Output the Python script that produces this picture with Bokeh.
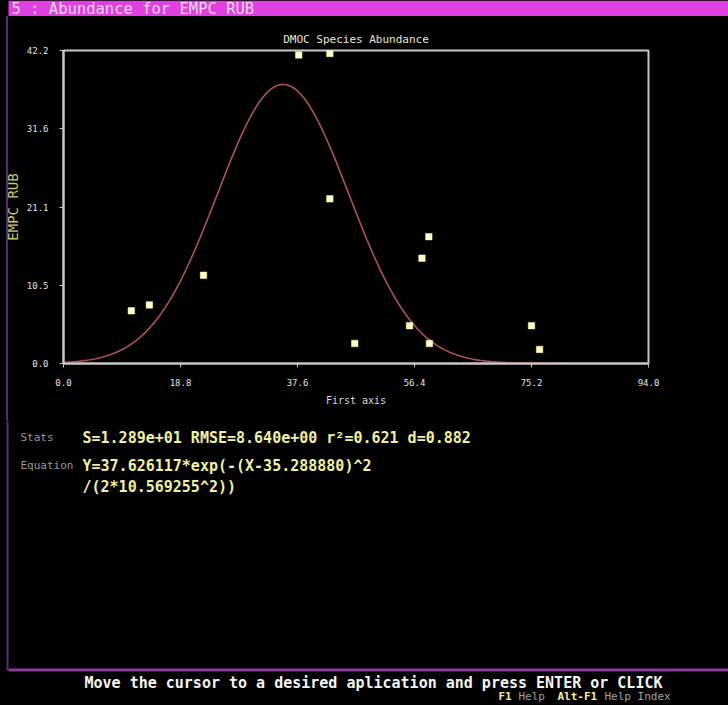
import numpy as np
from bokeh.plotting import figure
from bokeh.models import Label, FixedTicker
from bokeh.embed import file_html
from bokeh.resources import INLINE

# ---- data ----
first_axis = [10.9, 13.8, 22.5, 37.8, 42.8, 42.8, 46.8, 55.6, 57.6, 58.7, 58.8, 75.2, 76.5]
empc_rub   = [7.1, 7.9, 11.9, 41.6, 41.8, 22.2, 2.7, 5.1, 14.2, 17.1, 2.7, 5.1, 1.9]

# fitted gaussian parameters shown on the screen
amp, mu, sigma = 37.626117, 35.288880, 10.569255

x_ticks = [0.0, 18.8, 37.6, 56.4, 75.2, 94.0]
x_tick_labels = ["0.0", "18.8", "37.6", "56.4", "75.2", "94.0"]
y_ticks = [0.0, 10.55, 21.1, 31.65, 42.2]
y_tick_labels = ["0.0", "10.5", "21.1", "31.6", "42.2"]

header = "5 : Abundance for EMPC RUB"
chart_title = "DMOC Species Abundance"
stats_text = "S=1.289e+01 RMSE=8.640e+00 r\u00b2=0.621 d=0.882"
eq1 = "Y=37.626117*exp(-(X-35.288880)^2"
eq2 = "/(2*10.569255^2))"
footer = "Move the cursor to a desired aplication and press ENTER or CLICK"

W = 728
HEAD_H = 16            # page rows 0..16
CHART_TOP, CHART_BOT = 16, 420
TEXT_H = 705 - CHART_BOT
FL, FR, FT, FB = 63, 648, 50, 363  # frame edges in page pixels

MONO = "DejaVu Sans Mono"
EDGE = "#5a2a7a"


def canvas_fig(h, y0):
    f = figure(width=W, height=h, output_backend="svg", toolbar_location=None,
               x_range=(0, W), y_range=(y0 + h, y0),
               x_axis_location=None, y_axis_location=None, min_border=0)
    f.background_fill_color = "black"
    f.border_fill_color = "black"
    f.outline_line_color = None
    f.xgrid.visible = False
    f.ygrid.visible = False
    return f


def lab(f, x, y, text, color, size, bold=False):
    f.add_layout(Label(x=x, y=y, text=text, text_color=color, text_font=MONO,
                       text_font_size=size, text_font_style="bold" if bold else "normal",
                       text_baseline="middle", text_align="left"))


# ---------------- header bar ----------------
top = canvas_fig(HEAD_H, 0)
top.quad(left=[8], right=[W], top=[0], bottom=[HEAD_H], fill_color="#e040e0", line_color=None)
lab(top, 11, 8, header, "#f8d8f8", "15.5px")

# ---------------- chart ----------------
p = figure(width=W, height=CHART_BOT - CHART_TOP, output_backend="svg", toolbar_location=None,
           x_range=(0, 94.0), y_range=(0, 42.2),
           min_border_left=FL, min_border_right=W - FR,
           min_border_top=FT - CHART_TOP, min_border_bottom=CHART_BOT - FB)
p.background_fill_color = "black"
p.border_fill_alpha = 0
p.outline_line_color = "#c8c8c8"
p.outline_line_width = 2
p.xgrid.visible = False
p.ygrid.visible = False

for ax in (p.xaxis[0], p.yaxis[0]):
    ax.axis_line_color = "#c8c8c8"
    ax.axis_line_width = 2
    ax.major_tick_line_color = "#c8c8c8"
    ax.major_tick_in = 0
    ax.major_tick_out = 4
    ax.minor_tick_line_color = None
    ax.major_label_text_color = "#e4e4e4"
    ax.major_label_text_font = MONO
    ax.major_label_text_font_size = "9px"
    ax.axis_label_text_font = MONO
    ax.axis_label_text_font_style = "normal"

p.xaxis.ticker = FixedTicker(ticks=x_ticks)
p.xaxis.major_label_overrides = dict(zip(x_ticks, x_tick_labels))
p.yaxis.ticker = FixedTicker(ticks=y_ticks)
p.yaxis.major_label_overrides = dict(zip(y_ticks, y_tick_labels))
p.xaxis.major_label_standoff = 11
p.yaxis.major_label_standoff = 11
p.xaxis.axis_label = "First axis"
p.xaxis.axis_label_text_color = "#dcdcdc"
p.xaxis.axis_label_text_font_size = "10px"
p.xaxis.axis_label_standoff = 6
p.yaxis.axis_label = "EMPC RUB"
p.yaxis.axis_label_text_color = "#c8c860"
p.yaxis.axis_label_text_font_size = "14px"
p.yaxis.axis_label_standoff = 3

p.title.text = chart_title
p.title.align = "center"
p.title.text_color = "#e8e8d0"
p.title.text_font = MONO
p.title.text_font_style = "normal"
p.title.text_font_size = "11px"
p.title.standoff = 10

# fitted curve
xc = np.linspace(0, 94.0, 400)
yc = amp * np.exp(-(xc - mu) ** 2 / (2 * sigma ** 2))
p.line(xc, yc, line_color="#b0505e", line_width=1.6)

# observations
p.scatter(first_axis, empc_rub, marker="square", size=6.5,
          fill_color="#ffffd0", line_color="#ffffa0", line_width=0.5)

# ---------------- text area below ----------------
bot = canvas_fig(TEXT_H, CHART_BOT)
bot.quad(left=[6], right=[8], top=[CHART_BOT], bottom=[670], fill_color=EDGE, line_color=None)
bot.quad(left=[8], right=[W], top=[668], bottom=[671], fill_color="#8a3a9a", line_color=None)
lab(bot, 20, 437, "Stats", "#9a9a9a", "11px")
lab(bot, 20, 465, "Equation", "#9a9a9a", "11px")
lab(bot, 82, 437, stats_text, "#f0f0a0", "15px", bold=True)
lab(bot, 82, 465, eq1, "#f0f0a0", "15px", bold=True)
lab(bot, 82, 486, eq2, "#f0f0a0", "15px", bold=True)
lab(bot, 84, 682, footer, "#f4f4f4", "15px", bold=True)
lab(bot, 498, 696, "F1", "#f0f0a0", "11px", bold=True)
lab(bot, 518, 696, "Help", "#a0a0a0", "11px")
lab(bot, 557, 696, "Alt-F1", "#f0f0a0", "11px", bold=True)
lab(bot, 604, 696, "Help Index", "#a0a0a0", "11px")

html = file_html([top, p, bot], INLINE)
page_css = ("<style>html,body{margin:0;overflow:hidden;background-color:#000;}"
            "body{background-image:linear-gradient(%s,%s);"
            "background-repeat:no-repeat;background-position:6px 16px;"
            "background-size:2px 654px;}</style>" % (EDGE, EDGE))
if "</head>" in html:
    html = html.replace("</head>", page_css + "</head>", 1)
else:
    html = page_css + html
open("out.html", "w").write(html)
